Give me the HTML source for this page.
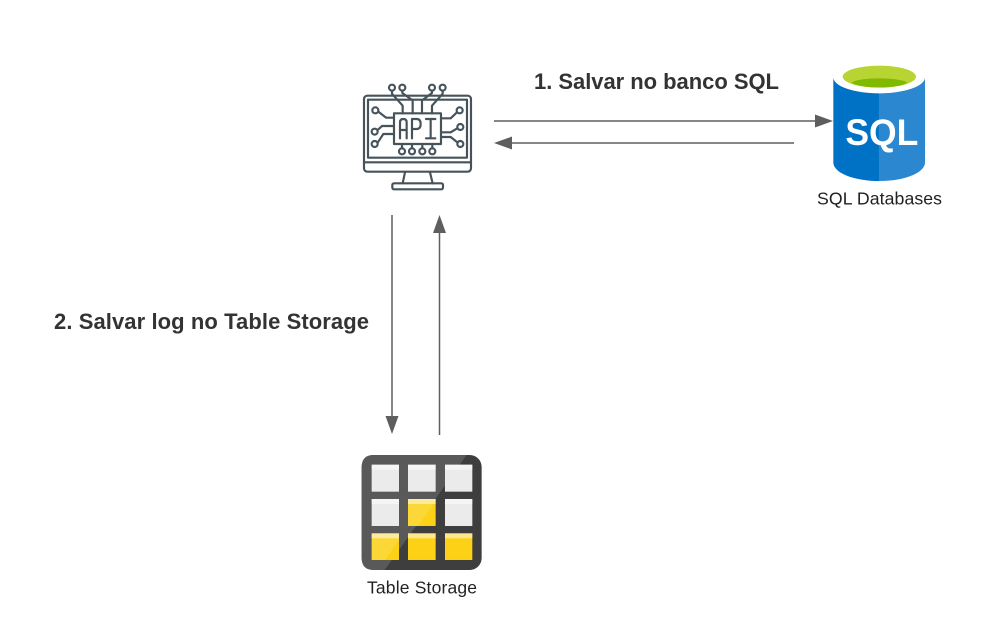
<!DOCTYPE html>
<html>
<head>
<meta charset="utf-8">
<style>
html,body{margin:0;padding:0;background:#fff;width:988px;height:644px;overflow:hidden}
svg{display:block}
text{font-family:"Liberation Sans",sans-serif}
</style>
</head>
<body>
<svg width="988" height="644" viewBox="0 0 988 644" xmlns="http://www.w3.org/2000/svg">
<rect width="988" height="644" fill="#fff"/>

<!-- connectors -->
<g stroke="#5e5e5e" stroke-width="1.5" fill="none">
<line x1="494" y1="121" x2="816" y2="121"/>
<line x1="794" y1="143" x2="511" y2="143"/>
<line x1="392" y1="215" x2="392" y2="418"/>
<line x1="439.5" y1="435" x2="439.5" y2="232"/>
</g>
<g fill="#5e5e5e">
<polygon points="833,121 815,114.5 815,127.5"/>
<polygon points="494,143 512,136.5 512,149.5"/>
<polygon points="392,434 385.5,416 398.5,416"/>
<polygon points="439.5,215 433,233 446,233"/>
</g>

<!-- labels -->
<text x="534" y="89" font-size="22" font-weight="700" fill="#333" textLength="245" lengthAdjust="spacing">1. Salvar no banco SQL</text>
<text x="54" y="329" font-size="22" font-weight="700" fill="#333" textLength="315" lengthAdjust="spacing">2. Salvar log no Table Storage</text>
<text x="817" y="204.500" font-size="17.700" fill="#222" textLength="125" lengthAdjust="spacing">SQL Databases</text>
<text x="367" y="593.500" font-size="17.500" fill="#222" textLength="110" lengthAdjust="spacing">Table Storage</text>

<!-- API icon -->
<g transform="translate(350,75) scale(0.3333)" fill="none" stroke="#46535a" stroke-width="6.500" stroke-linejoin="round" stroke-linecap="round">
<rect x="42" y="62" width="321" height="228" rx="10"/>
<rect x="54" y="74" width="297" height="174"/>
<line x1="42" y1="262" x2="363" y2="262"/>
<path d="M165 292 L158 325 M240 292 L248 325"/>
<rect x="127" y="325" width="152" height="18" rx="5"/>
<rect x="132" y="115" width="141" height="92"/>
<!-- API letters -->
<path d="M150 190 V142 Q150 132 160 132 Q170 132 170 142 V190 M150 165 H170"/>
<path d="M186 190 V132 H200 Q212 132 212 147 Q212 162 200 162 H186"/>
<path d="M228 132 H256 M242 132 V190 M228 190 H256"/>
<!-- top pins -->
<circle cx="126" cy="38" r="9"/><circle cx="157" cy="38" r="9"/>
<circle cx="246" cy="38" r="9"/><circle cx="278" cy="38" r="9"/>
<path d="M126 47 V56 L158 92 V115"/>
<path d="M157 47 V54 L188 76 V115"/>
<path d="M246 47 V54 L216 76 V115"/>
<path d="M278 47 V56 L246 92 V115"/>
<!-- left pins -->
<circle cx="76" cy="106" r="9"/><circle cx="74" cy="170" r="9"/><circle cx="74" cy="207" r="9"/>
<path d="M85 110 L108 128 H132"/>
<path d="M83 165 L96 153 H132"/>
<path d="M83 203 L100 177 H132"/>
<!-- right pins -->
<circle cx="329" cy="106" r="9"/><circle cx="331" cy="156" r="9"/><circle cx="331" cy="207" r="9"/>
<path d="M321 112 L302 130 H273"/>
<path d="M322 160 L302 172 H273"/>
<path d="M322 202 L302 186 H273"/>
<!-- bottom pins -->
<circle cx="156" cy="229" r="9"/><circle cx="186" cy="229" r="9"/><circle cx="217" cy="229" r="9"/><circle cx="247" cy="229" r="9"/>
<path d="M156 220 V207 M186 220 V207 M217 220 V207 M247 220 V207"/>
</g>

<!-- SQL cylinder -->
<g transform="translate(780,55) scale(0.3333)">
<path d="M160 70 V322 C160 355 225 378 297 378 V70 Z" fill="#0072c6"/>
<path d="M297 70 V378 C370 378 435 355 435 322 V70 Z" fill="#2a87d0"/>
<ellipse cx="297.500" cy="67" rx="137.500" ry="48" fill="#fff"/>
<ellipse cx="298" cy="65" rx="110" ry="33" fill="#b8d432"/>
<path d="M215 83 C235 66 360 66 382 83 C355 102 240 102 215 83 Z" fill="#7fba00"/>
<text x="196" y="270" font-size="112" font-weight="700" fill="#fff" textLength="219" lengthAdjust="spacingAndGlyphs">SQL</text>
</g>

<!-- Table storage icon -->
<g transform="translate(350,445) scale(0.3333)">
<rect x="35" y="30" width="360" height="345" rx="36" fill="#3e3e3e"/>
<path d="M71 30 H350 L104 375 H71 Q35 375 35 339 V66 Q35 30 71 30 Z" fill="#595959"/>
<g fill="#ebebeb">
<rect x="65" y="59" width="82" height="81"/><rect x="174" y="59" width="83" height="81"/><rect x="285" y="59" width="82" height="81"/>
<rect x="65" y="162" width="82" height="81"/><rect x="285" y="162" width="82" height="81"/>
</g>
<g fill="#fcd116">
<rect x="174" y="162" width="83" height="81"/>
<rect x="65" y="265" width="82" height="80"/><rect x="174" y="265" width="83" height="80"/><rect x="285" y="265" width="82" height="80"/>
</g>
<g fill="#fff" opacity="0.5">
<rect x="65" y="59" width="82" height="15"/><rect x="174" y="59" width="83" height="15"/><rect x="285" y="59" width="82" height="15"/>
<rect x="65" y="162" width="82" height="15"/><rect x="174" y="162" width="83" height="15"/><rect x="285" y="162" width="82" height="15"/>
<rect x="65" y="265" width="82" height="15"/><rect x="174" y="265" width="83" height="15"/><rect x="285" y="265" width="82" height="15"/>
</g>
<!-- diagonal gloss over tiles -->
<path d="M174 162 H257 V168 L204 243 H174 Z M65 265 H147 V285 L104 345 H65 Z" fill="#fff" opacity="0.15"/>
</g>
</svg>
</body>
</html>
